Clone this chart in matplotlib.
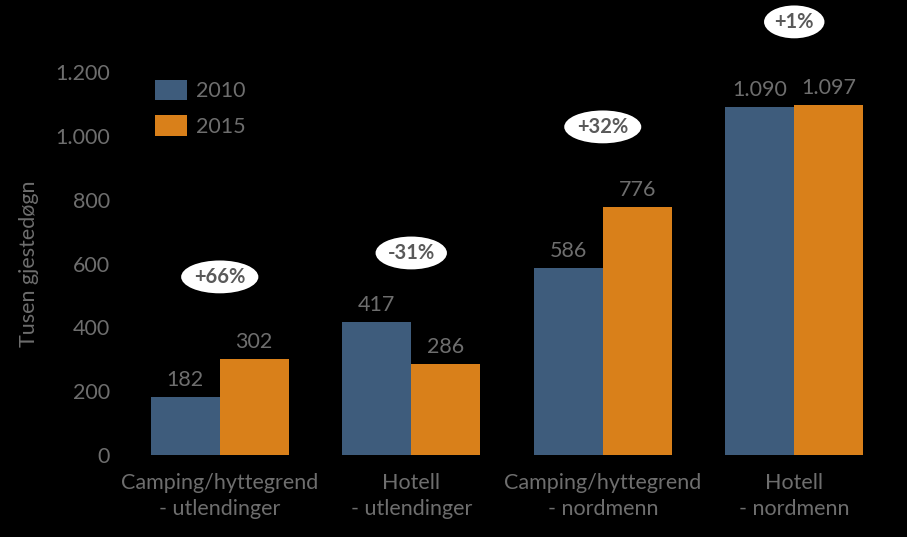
import matplotlib
matplotlib.use("Agg")
import matplotlib.pyplot as plt
import numpy as np

categories = ["Camping/hyttegrend\n- utlendinger", "Hotell\n- utlendinger",
              "Camping/hyttegrend\n- nordmenn", "Hotell\n- nordmenn"]
series_names = ["2010", "2015"]
values_2010 = [182, 417, 586, 1090]
values_2015 = [302, 286, 776, 1097]
changes = ["+66%", "-31%", "+32%", "+1%"]
change_y = [558, 633, 1028, 1357]
yticks = [0, 200, 400, 600, 800, 1000, 1200]

blue = "#3E5C7C"
orange = "#D9801A"
gray = "#6E6E6E"
fs = 15.5

plt.rcParams['font.family'] = ['Lato', 'DejaVu Sans']

fig = plt.figure(figsize=(9.07, 5.37), dpi=100, facecolor="black")
ax = fig.add_axes([124/907, 1-455/537, (890-124)/907, (455-72)/537])
ax.set_facecolor("black")

x = np.arange(len(categories))
w = 0.36
b1 = ax.bar(x - w/2, values_2010, w, color=blue, label=series_names[0])
b2 = ax.bar(x + w/2, values_2015, w, color=orange, label=series_names[1])

def fmt(v):
    return f"{v:,}".replace(",", ".")

for bars, vals in ((b1, values_2010), (b2, values_2015)):
    for r, v in zip(bars, vals):
        ax.text(r.get_x() + r.get_width()/2, v + 22, fmt(v), ha="center", va="bottom",
                color=gray, fontsize=fs)

for xi, txt, yy in zip(x, changes, change_y):
    ax.text(xi, yy, txt, ha="center", va="center", fontsize=14.5, fontweight="bold",
            color="#595959", clip_on=False,
            bbox=dict(boxstyle="ellipse,pad=0.08", fc="white", ec="none"))

ax.set_xlim(-0.5, 3.5)
ax.set_ylim(0, 1200)
ax.set_yticks(yticks)
ax.set_yticklabels([fmt(t) for t in yticks], color=gray, fontsize=fs)
ax.set_xticks(x)
ax.set_xticklabels(categories, color=gray, fontsize=fs, linespacing=1.4)
ax.tick_params(length=0)
ax.tick_params(axis="x", pad=13)
ax.tick_params(axis="y", pad=10)
for s in ax.spines.values():
    s.set_visible(False)

ax.set_ylabel("Tusen gjestedøgn", color=gray, fontsize=fs, labelpad=12)

leg = ax.legend(loc="upper left", bbox_to_anchor=(155/907, 1-80/537),
                bbox_transform=fig.transFigure, frameon=False, borderpad=0,
                borderaxespad=0, fontsize=fs, labelcolor=gray, handlelength=1.5,
                handleheight=1.07, labelspacing=0.65, handletextpad=0.4)

fig.savefig("out.png", dpi=100, facecolor="black")
